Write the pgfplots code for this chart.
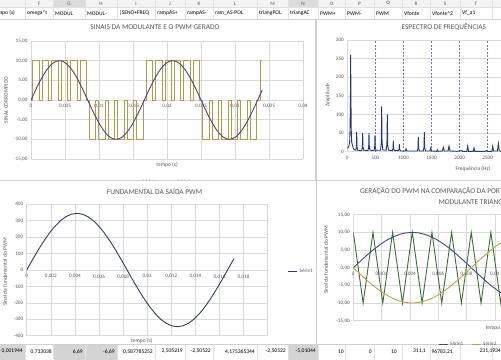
\documentclass[border=0pt]{standalone}
\usepackage{pgfplots}
\pgfplotsset{compat=1.18}
\usepackage{fontspec}
\setmainfont{Carlito}
\definecolor{txt}{HTML}{595959}
\definecolor{grd}{HTML}{D9D9D9}
\definecolor{frm}{HTML}{D0D0D0}
\definecolor{sheet}{HTML}{E1E1E1}
\definecolor{hdr}{HTML}{F3F3F3}
\definecolor{hdrsel}{HTML}{DCDCDC}
\definecolor{cellsel}{HTML}{D4D4D4}
\definecolor{modc}{HTML}{54407A}
\definecolor{pwmc}{HTML}{B59A45}
\definecolor{navy}{HTML}{2F3D6B}
\definecolor{blu}{HTML}{3A4B8C}
\definecolor{gold}{HTML}{B8A848}
\definecolor{grn}{HTML}{3F6E33}
\definecolor{spec}{HTML}{243A73}
\definecolor{dashc}{HTML}{7B68D8}
\newcommand{\tk}{\fontsize{5.2}{6}\selectfont}
\newcommand{\ttl}{\fontsize{7.4}{8}\selectfont}
\newcommand{\lbl}{\fontsize{5.5}{6.5}\selectfont}
\newcommand{\cel}{\fontsize{5.6}{6.5}\selectfont}
\pgfplotsset{excel/.style={scale only axis, anchor=south west,
  axis line style={draw=grd, line width=0.5bp},
  grid=major, major grid style={draw=grd, line width=0.5bp},
  major tick length=0pt, tick label style={font=\tk, text=txt},
  hide obscured x ticks=false, hide obscured y ticks=false,
  scaled x ticks=false, scaled y ticks=false,
  /pgf/number format/assume math mode=true, /pgf/number format/1000 sep={},
  legend style={draw=none, fill=none, font=\tk, text=txt},
  legend image code/.code={\draw[#1, line width=0.9bp] (0bp,0bp) -- (9bp,0bp);}}}
\begin{document}
\begin{tikzpicture}[x=1bp,y=1bp]
\path[use as bounding box] (0,0) rectangle (501,359);
\clip (0,0) rectangle (501,359);
\fill[white] (0,0) rectangle (501,359);
\begin{scope}[shift={(0,359)}, yscale=-1]
% ---------- sheet header rows ----------
\fill[hdr] (-10,-3) rectangle (510,7);
\fill[hdrsel] (53,-3) rectangle (85,7);
\fill[hdrsel] (288,-3) rectangle (318,7);
\draw[sheet, line width=0.5bp] (-10,7) -- (510,7);
\draw[sheet, line width=0.5bp] (-10,19) -- (510,19);
\foreach \a/\b/\L in {-30/25/E, 25/53/F, 53/85/G, 85/117/H, 117/155/I, 155/185/J, 185/213/K, 213/257/L, 257/288/M, 288/318/N, 318/345/O, 345/374/P, 374/402/Q, 402/430/R, 430/460/S, 460/492/T}{
  \draw[sheet, line width=0.5bp] (\b,-3) -- (\b,19);
  \node[font=\tk, text=txt, inner sep=0] at ({(\a+\b)/2},3.6) {\L};
}
\foreach \x/\n in {-7/tempo (s), 27/omega*t, 55/MODUL, 87/MODUL-, 119/|SENO+FREQ, 157/rampAS+, 187/rampAS-, 215/ram\_AS-POL, 259/triangPOL, 290/triangAC, 320/PWM+, 347/PWM-, 376/PWM, 404/Vfonte, 432/Vfonte\^{}2, 462/Vf\_a1}{
  \node[font=\cel, anchor=west, inner sep=0] at (\x,13.3) {\n};
}
% bottom row
\fill[cellsel] (-10,344) rectangle (25,362);
\fill[cellsel] (53,344) rectangle (117,362);
\fill[cellsel] (288,344) rectangle (318,362);
\draw[sheet, line width=0.5bp] (-10,344) -- (510,344);
\foreach \b in {25,53,85,117,155,185,213,257,288,318,345,374,402,430,460,492}{
  \draw[sheet, line width=0.5bp] (\b,344) -- (\b,362);
}
\foreach \r/\n in {23/{0,001944}, 52/{0,733038}, 83/{6,69}, 115/{-6,69}, 153/{0,587785252}, 183/{2,505219}, 211/{-2,50522}, 255/{4,175365344}, 286/{-2,50522}, 316/{-5,01044}, 344/{10}, 372/{0}, 397/{10}, 426/{311,1}, 453/{96783,21}, 501/{231,1934}}{
  \node[font=\cel, anchor=east, inner sep=0] at (\r,351.5) {\n};
}
% ---------- chart frames (top) ----------
\fill[white, draw=frm, line width=0.5bp] (-10,19.5) rectangle (315.5,180.5);
\fill[white, draw=frm, line width=0.5bp] (316.5,19.5) rectangle (520,180.5);
\node[font=\ttl, text=txt] at (155,27) {SINAIS DA MODULANTE E O PWM GERADO};
\node[font=\lbl, text=txt, rotate=90] at (6,100) {SINAL CORROMPIDO};
\node[font=\lbl, text=txt] at (167,164.5) {tempo (s)};
\node[font=\ttl, text=txt, anchor=west] at (398,27) {ESPECTRO DE FREQUÊNCIAS};
\node[font=\lbl, text=txt, rotate=90] at (328,95) {Amplitude};
\node[font=\lbl, text=txt] at (473,169) {Frequência (Hz)};
\end{scope}
% ---------- CHART 1 ----------
\begin{axis}[excel, at={(31bp,200bp)}, width=272bp, height=118bp,
  xmin=0, xmax=0.04, ymin=-15, ymax=15,
  axis x line*=middle, axis y line*=left,
  xtick={0,0.005,0.01,0.015,0.02,0.025,0.03,0.035,0.04},
  xticklabels={0,{0,005},{0,01},{0,015},{0,02},{0,025},{0,03},{0,035},{0,04}},
  ytick={-15,-10,-5,0,5,10,15},
  yticklabels={{-15,00},{-10,00},{-5,00},{0,00},{5,00},{10,00},{15,00}},
  xticklabel style={yshift=-1bp},
  legend style={at={(0.48,-0.198)}, anchor=center}, legend columns=2,
  legend style={/tikz/every even column/.append style={column sep=8bp}}]
\addplot[pwmc, line width=0.9bp] coordinates {(0,0)
(0.000260,0) (0.000260,10) (0.001210,10) (0.001210,0)
(0.001649,0) (0.001649,10) (0.002599,10) (0.002599,0)
(0.003038,0) (0.003038,10) (0.003988,10) (0.003988,0)
(0.004427,0) (0.004427,10) (0.005377,10) (0.005377,0)
(0.005816,0) (0.005816,10) (0.006766,10) (0.006766,0)
(0.007205,0) (0.007205,10) (0.008155,10) (0.008155,0)
(0.008593,0) (0.008593,-10) (0.009543,-10) (0.009543,0)
(0.009982,0) (0.009982,-10) (0.010932,-10) (0.010932,0)
(0.011371,0) (0.011371,-10) (0.012321,-10) (0.012321,0)
(0.012760,0) (0.012760,-10) (0.013710,-10) (0.013710,0)
(0.014149,0) (0.014149,-10) (0.015099,-10) (0.015099,0)
(0.015538,0) (0.015538,-10) (0.016488,-10) (0.016488,0)
(0.016927,0) (0.016927,10) (0.017877,10) (0.017877,0)
(0.018316,0) (0.018316,10) (0.019266,10) (0.019266,0)
(0.019705,0) (0.019705,10) (0.020655,10) (0.020655,0)
(0.021094,0) (0.021094,10) (0.022044,10) (0.022044,0)
(0.022482,0) (0.022482,10) (0.023432,10) (0.023432,0)
(0.023871,0) (0.023871,10) (0.024821,10) (0.024821,0)
(0.025260,0) (0.025260,-10) (0.026210,-10) (0.026210,0)
(0.026649,0) (0.026649,-10) (0.027599,-10) (0.027599,0)
(0.028038,0) (0.028038,-10) (0.028988,-10) (0.028988,0)
(0.029427,0) (0.029427,-10) (0.030377,-10) (0.030377,0)
(0.030816,0) (0.030816,-10) (0.031766,-10) (0.031766,0)
(0.032205,0) (0.032205,-10) (0.033155,-10) (0.033155,0)
(0.033800,0) (0.033800,10) (0.034,10)};
\addlegendentry{Série1}
\addplot[modc, line width=0.9bp] coordinates {(0,0) (0.000463,1.736) (0.000926,3.420) (0.001389,5) (0.001852,6.428) (0.002315,7.660) (0.002778,8.660) (0.003241,9.397) (0.003704,9.848) (0.004167,10) (0.004630,9.848) (0.005093,9.397) (0.005556,8.660) (0.006019,7.660) (0.006481,6.428) (0.006944,5) (0.007407,3.420) (0.007870,1.736) (0.008333,0) (0.008796,-1.736) (0.009259,-3.420) (0.009722,-5) (0.010185,-6.428) (0.010648,-7.660) (0.011111,-8.660) (0.011574,-9.397) (0.012037,-9.848) (0.012500,-10) (0.012963,-9.848) (0.013426,-9.397) (0.013889,-8.660) (0.014352,-7.660) (0.014815,-6.428) (0.015278,-5) (0.015741,-3.420) (0.016204,-1.736) (0.016667,0) (0.017130,1.736) (0.017593,3.420) (0.018056,5) (0.018519,6.428) (0.018981,7.660) (0.019444,8.660) (0.019907,9.397) (0.020370,9.848) (0.020833,10) (0.021296,9.848) (0.021759,9.397) (0.022222,8.660) (0.022685,7.660) (0.023148,6.428) (0.023611,5) (0.024074,3.420) (0.024537,1.736) (0.025000,0) (0.025463,-1.736) (0.025926,-3.420) (0.026389,-5) (0.026852,-6.428) (0.027315,-7.660) (0.027778,-8.660) (0.028241,-9.397) (0.028704,-9.848) (0.029167,-10) (0.029630,-9.848) (0.030093,-9.397) (0.030556,-8.660) (0.031019,-7.660) (0.031481,-6.428) (0.031944,-5) (0.032407,-3.420) (0.032870,-1.736) (0.033333,0) (0.033796,1.736) (0.034,2.49)};
\addlegendentry{Série2}
\end{axis}
% ---------- CHART 3 (spectrum) ----------
\begin{axis}[excel, at={(347.3bp,207.3bp)}, width=168.5bp, height=111.7bp,
  xmin=0, xmax=3000, ymin=0, ymax=300,
  axis x line*=bottom, axis y line*=left,
  xtick={0,500,1000,1500,2000,2500,3000}, ytick={0,50,100,150,200,250,300},
  xmajorgrids=false, xticklabel style={yshift=-1bp}]
\addplot[dashc, line width=0.55bp, dash pattern=on 2bp off 1.5bp] coordinates {(500,0) (500,300)};
\addplot[dashc, line width=0.55bp, dash pattern=on 2bp off 1.5bp] coordinates {(1000,0) (1000,300)};
\addplot[dashc, line width=0.55bp, dash pattern=on 2bp off 1.5bp] coordinates {(1500,0) (1500,300)};
\addplot[dashc, line width=0.55bp, dash pattern=on 2bp off 1.5bp] coordinates {(2000,0) (2000,300)};
\addplot[dashc, line width=0.55bp, dash pattern=on 2bp off 1.5bp] coordinates {(2500,0) (2500,300)};
\addplot[spec, line width=0.9bp] coordinates {(0,9) (15,11) (30,16) (42,28) (50,70) (56,160) (60,260) (64,160) (70,60) (78,25) (90,18) (105,10) (125,5)
(150,4) (161,12) (167,53) (173,12) (185,4)
(257,3) (268,12) (274,50) (280,12) (292,4)
(368,3) (380,12) (386,50) (392,12) (405,4)
(475,3) (487,11) (493,45) (499,11) (512,4)
(592,4) (605,25) (612,122) (619,25) (632,5)
(692,4) (705,20) (712,100) (719,20) (732,4)
(802,3) (813,8) (819,30) (825,8) (838,3)
(909,3) (920,6) (926,20) (932,6) (945,2)
(1030,2) (1045,8) (1060,2)
(1246,2) (1258,9) (1264,40) (1270,9) (1284,2)
(1353,2) (1365,12) (1371,53) (1377,12) (1391,2)
(1470,2) (1485,10) (1500,2)
(1589,1) (1603,5) (1617,1)
(1693,2) (1709,12) (1725,2)
(1794,2) (1811,15) (1828,2)
(1950,1) (2037,3) (2050,1)
(2129,1) (2144,15) (2159,1)
(2242,1) (2256,10) (2270,1)
(2450,1) (2480,3) (2495,1)
(2574,1) (2589,15) (2604,2)
(2673,2) (2689,22) (2705,2)
(2775,1) (2790,10) (2805,1) (2880,1) (2895,8) (2910,1) (3000,2)};
\end{axis}
% ---------- chart frames (bottom) ----------
\begin{scope}[shift={(0,359)}, yscale=-1]
\fill[white, draw=frm, line width=0.5bp] (-10,180.5) rectangle (316,344);
\fill[white, draw=frm, line width=0.5bp] (316.5,180.5) rectangle (520,344);
\node[font=\ttl, text=txt] at (154.5,191) {FUNDAMENTAL DA SAÍDA PWM};
\node[font=\lbl, text=txt, rotate=90] at (5,272) {Sinal da fundamental do PWM};
\node[font=\lbl, text=txt] at (141.7,340.5) {tempo (s)};
\node[font=\ttl, text=txt, anchor=west] at (356.7,191) {GERAÇÃO DO PWM NA COMPARAÇÃO DA PORTADORA COM A};
\node[font=\ttl, text=txt, anchor=west] at (435,201.7) {MODULANTE TRIANGULAR};
\node[font=\lbl, text=txt, rotate=90] at (326,260) {Sinal da fundamental do PWM};
\node[font=\lbl, text=txt, anchor=west] at (482,327.7) {tempo (s)};
\end{scope}
% ---------- CHART 2 ----------
\begin{axis}[excel, at={(26.7bp,23.3bp)}, width=241bp, height=131.4bp,
  xmin=0, xmax=0.02, ymin=-400, ymax=400,
  axis x line*=middle, axis y line*=left,
  xtick={0,0.002,0.004,0.006,0.008,0.01,0.012,0.014,0.016,0.018,0.02},
  xticklabels={0,{0,002},{0,004},{0,006},{0,008},{0,01},{0,012},{0,014},{0,016},{0,018},{}},
  ytick={-400,-300,-200,-100,0,100,200,300,400},
  xticklabel style={yshift=-1bp},
  legend style={at={(1.07,0.49)}, anchor=west}]
\addplot[navy, line width=0.9bp] coordinates {(0,0) (0.000463,59.9) (0.000926,118.0) (0.001389,172.5) (0.001852,221.8) (0.002315,264.3) (0.002778,298.8) (0.003241,324.2) (0.003704,339.8) (0.004167,345) (0.004630,339.8) (0.005093,324.2) (0.005556,298.8) (0.006019,264.3) (0.006481,221.8) (0.006944,172.5) (0.007407,118.0) (0.007870,59.9) (0.008333,0) (0.008796,-59.9) (0.009259,-118.0) (0.009722,-172.5) (0.010185,-221.8) (0.010648,-264.3) (0.011111,-298.8) (0.011574,-324.2) (0.012037,-339.8) (0.012500,-345) (0.012963,-339.8) (0.013426,-324.2) (0.013889,-298.8) (0.014352,-264.3) (0.014815,-221.8) (0.015278,-172.5) (0.015741,-118.0) (0.016204,-59.9) (0.016667,0) (0.017130,59.9) (0.0172,70)};
\addlegendentry{Série1}
\end{axis}
% ---------- CHART 4 ----------
\begin{axis}[excel, at={(353.3bp,38.3bp)}, width=283bp, height=106bp,
  xmin=0, xmax=0.02, ymin=-15, ymax=15,
  axis x line*=middle, axis y line*=left,
  xtick={0,0.002,0.004,0.006,0.008,0.01,0.012,0.014,0.016,0.018,0.02},
  xticklabels={0,{0,002},{0,004},{0,006},{0,008},{0,01},{0,012},{0,014},{0,016},{0,018},{0,02}},
  ytick={-15,-10,-5,0,5,10,15},
  yticklabels={{-15,00},{-10,00},{-5,00},{0,00},{5,00},{10,00},{15,00}},
  xticklabel style={yshift=-1bp},
  legend style={at={(0.289,-0.228)}, anchor=west}, legend columns=2,
  legend style={/tikz/every even column/.append style={column sep=6bp}}]
\addplot[grn, line width=0.9bp, forget plot] coordinates {(0,10) (0.000694,-10) (0.001389,10) (0.002083,-10) (0.002778,10) (0.003472,-10) (0.004167,10) (0.004861,-10) (0.005556,10) (0.006250,-10) (0.006944,10) (0.007639,-10) (0.008333,10) (0.009028,-10) (0.009722,10) (0.010417,-10) (0.011111,10) (0.011806,-10) (0.012500,10) (0.013194,-10) (0.013889,10) (0.014583,-10) (0.015278,10) (0.015972,-10) (0.016667,10)};
\addplot[blu, line width=0.9bp] coordinates {(0,0) (0.000463,1.736) (0.000926,3.420) (0.001389,5) (0.001852,6.428) (0.002315,7.660) (0.002778,8.660) (0.003241,9.397) (0.003704,9.848) (0.004167,10) (0.004630,9.848) (0.005093,9.397) (0.005556,8.660) (0.006019,7.660) (0.006481,6.428) (0.006944,5) (0.007407,3.420) (0.007870,1.736) (0.008333,0) (0.008796,-1.736) (0.009259,-3.420) (0.009722,-5) (0.010185,-6.428) (0.010648,-7.660) (0.011111,-8.660) (0.011574,-9.397) (0.012037,-9.848) (0.012500,-10) (0.012963,-9.848) (0.013426,-9.397) (0.013889,-8.660) (0.014352,-7.660) (0.014815,-6.428) (0.015278,-5) (0.015741,-3.420) (0.016204,-1.736) (0.016667,0)};
\addlegendentry{Série1}
\addplot[gold, line width=0.9bp] coordinates {(0,0) (0.000463,-1.736) (0.000926,-3.420) (0.001389,-5) (0.001852,-6.428) (0.002315,-7.660) (0.002778,-8.660) (0.003241,-9.397) (0.003704,-9.848) (0.004167,-10) (0.004630,-9.848) (0.005093,-9.397) (0.005556,-8.660) (0.006019,-7.660) (0.006481,-6.428) (0.006944,-5) (0.007407,-3.420) (0.007870,-1.736) (0.008333,0) (0.008796,1.736) (0.009259,3.420) (0.009722,5) (0.010185,6.428) (0.010648,7.660) (0.011111,8.660) (0.011574,9.397) (0.012037,9.848) (0.012500,10) (0.012963,9.848) (0.013426,9.397) (0.013889,8.660) (0.014352,7.660) (0.014815,6.428) (0.015278,5) (0.015741,3.420) (0.016204,1.736) (0.016667,0)};
\addlegendentry{Série2}
\end{axis}
\end{tikzpicture}
\end{document}
